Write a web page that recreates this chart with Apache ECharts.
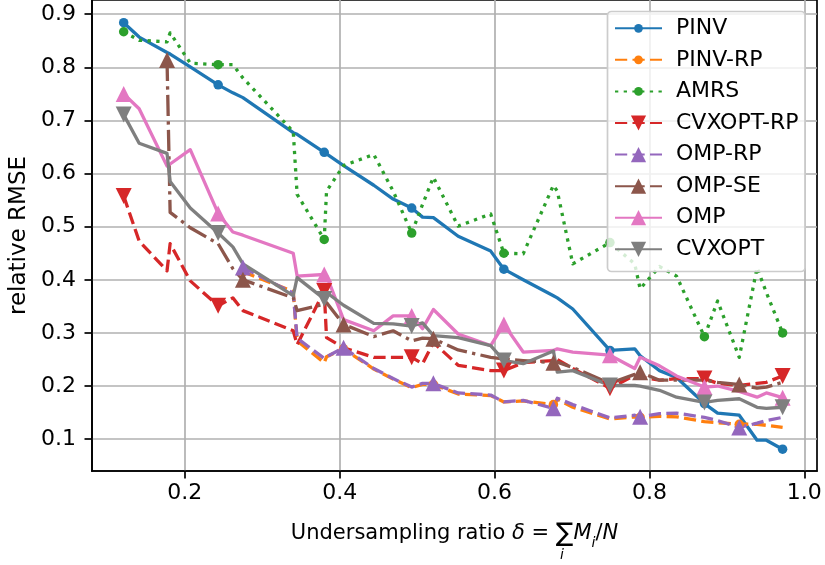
<!DOCTYPE html>
<html><head><meta charset="utf-8">
<script src="https://cdn.jsdelivr.net/npm/echarts@6/dist/echarts.min.js"></script>
<style>html,body{margin:0;padding:0;background:#fff}#c{width:825px;height:565px}</style>
</head><body><div id="c"></div>
<script>
// undersampling ratio (shared x positions)
const xs = [0.121, 0.141, 0.177, 0.181, 0.207, 0.243, 0.262, 0.275, 0.340, 0.345, 0.380, 0.383, 0.405, 0.444, 0.469, 0.493, 0.507, 0.521, 0.553, 0.595, 0.612, 0.637, 0.676, 0.681, 0.701, 0.749, 0.781, 0.788, 0.813, 0.835, 0.871, 0.888, 0.916, 0.939, 0.951, 0.972];
const pinv = [0.884, 0.857, 0.828, 0.825, 0.801, 0.767, 0.752, 0.743, 0.677, 0.674, 0.640, 0.637, 0.615, 0.578, 0.552, 0.535, 0.518, 0.517, 0.482, 0.454, 0.420, 0.400, 0.370, 0.366, 0.345, 0.267, 0.270, 0.257, 0.229, 0.216, 0.167, 0.149, 0.145, 0.098, 0.098, 0.081];
const pinvRp = [null, null, null, null, null, null, null, 0.415, 0.378, 0.285, 0.244, 0.255, 0.270, 0.232, 0.213, 0.197, 0.203, 0.203, 0.185, 0.182, 0.170, 0.172, 0.165, 0.175, 0.160, 0.138, 0.142, 0.141, 0.143, 0.142, 0.133, 0.131, 0.128, 0.128, 0.126, 0.122];
const amrs = [0.867, 0.851, 0.848, 0.865, 0.808, 0.805, 0.805, 0.780, 0.679, 0.561, 0.476, 0.567, 0.615, 0.636, 0.567, 0.488, 0.542, 0.593, 0.501, 0.524, 0.450, 0.449, 0.578, 0.567, 0.430, 0.470, 0.430, 0.383, 0.425, 0.407, 0.293, 0.360, 0.254, 0.423, 0.376, 0.300];
const cvxoptRp = [0.558, 0.473, 0.417, 0.468, 0.398, 0.351, 0.366, 0.342, 0.304, 0.278, 0.379, 0.291, 0.272, 0.254, 0.254, 0.254, 0.242, 0.282, 0.239, 0.229, 0.229, 0.244, 0.248, 0.250, 0.233, 0.196, 0.220, 0.217, 0.211, 0.214, 0.214, 0.205, 0.201, 0.205, 0.207, 0.219];
const ompRp = [null, null, null, null, null, null, null, 0.423, 0.375, 0.290, 0.252, 0.255, 0.272, 0.233, 0.214, 0.198, 0.205, 0.205, 0.187, 0.183, 0.170, 0.173, 0.158, 0.177, 0.165, 0.140, 0.145, 0.142, 0.148, 0.149, 0.141, 0.135, 0.122, 0.130, 0.135, 0.141];
const ompSe = [null, null, 0.814, 0.527, 0.498, 0.468, 0.421, 0.400, 0.366, 0.342, 0.354, 0.357, 0.316, 0.293, 0.304, 0.285, 0.290, 0.289, 0.268, 0.254, 0.251, 0.248, 0.244, 0.245, 0.235, 0.205, 0.222, 0.226, 0.211, 0.211, 0.211, 0.207, 0.203, 0.196, 0.198, 0.207];
const omp = [0.750, 0.722, 0.614, 0.618, 0.645, 0.525, 0.490, 0.484, 0.450, 0.407, 0.410, 0.408, 0.325, 0.304, 0.332, 0.332, 0.308, 0.344, 0.298, 0.276, 0.316, 0.264, 0.267, 0.270, 0.264, 0.258, 0.233, 0.254, 0.238, 0.219, 0.198, 0.200, 0.190, 0.179, 0.187, 0.178];
const cvxopt = [0.711, 0.657, 0.638, 0.585, 0.535, 0.488, 0.462, 0.430, 0.370, 0.404, 0.364, 0.376, 0.352, 0.318, 0.317, 0.313, 0.319, 0.295, 0.291, 0.276, 0.248, 0.242, 0.266, 0.226, 0.229, 0.201, 0.201, 0.200, 0.192, 0.179, 0.169, 0.173, 0.176, 0.160, 0.158, 0.160];
const xTicks = [0.2, 0.4, 0.6, 0.8, 1.0];
const yTicks = [0.1, 0.2, 0.3, 0.4, 0.5, 0.6, 0.7, 0.8, 0.9];
const legendNames = ['PINV', 'PINV-RP', 'AMRS', 'CVXOPT-RP', 'OMP-RP', 'OMP-SE', 'OMP', 'CVXOPT'];

const FONT = 'DejaVu Sans';
const LW = 3.3;
const DASH = [12.2, 5.3], DOT = [3.3, 5.4], DASHDOT = [21.1, 5.3, 3.3, 5.3];

function mk(name, ys, color, type, symbol, size, rotate) {
  const data = xs.map((x, i) => [x, ys[i]]).filter(d => d[1] != null);
  return {
    name, type: 'line', data, silent: true,
    symbol, symbolRotate: rotate || 0,
    symbolSize: (v, p) => (p.dataIndex % 5 === 0 ? size : 0),
    showSymbol: true,
    itemStyle: { color, borderWidth: 0 },
    lineStyle: { color, width: LW, type, cap: 'butt', join: 'round' },
    emphasis: { disabled: true },
    clip: false
  };
}

// one legend per row so each row sits exactly; circle rows get a smaller icon
const ROW0 = 28.3, PITCH = 31.57, TEXT_H = 22;
const legends = legendNames.map((name, k) => {
  const ih = k < 3 ? 11 : 19;
  return {
    orient: 'vertical', left: 607, top: ROW0 + k * PITCH - TEXT_H / 2,
    itemWidth: 47, itemHeight: ih, z: 20, padding: [0, 4, 0, 7],
    data: [name], selectedMode: false,
    textStyle: { fontFamily: FONT, fontSize: 22, color: '#000', lineHeight: TEXT_H, padding: [0, 0, 0, 9] }
  };
});

const chart = echarts.init(document.getElementById('c'), null, { renderer: 'canvas' });
chart.setOption({
  animation: false,
  backgroundColor: '#fff',
  grid: { left: 91, right: 8, top: -2, bottom: 94, show: true, borderColor: '#000', borderWidth: 1.7, backgroundColor: 'transparent' },
  xAxis: {
    type: 'value', min: 0.0801, max: 1.0164, splitNumber: 5, minInterval: 0.2, maxInterval: 0.2,
    axisLine: { show: true, lineStyle: { color: '#000', width: 1.7 } },
    axisTick: { show: true, length: 7.5, lineStyle: { color: '#000', width: 1.7 }, customValues: xTicks },
    axisLabel: { customValues: xTicks, margin: 11, color: '#000', fontFamily: FONT, fontSize: 22, formatter: v => v.toFixed(1) },
    splitLine: { show: true, lineStyle: { color: '#b0b0b0', width: 1.7 } },
    name: '{n|Undersampling ratio }{it|δ}{n| = }{sig|∑}{it|M}{sub|i}{n|/}{it|N}',
    nameLocation: 'middle', nameGap: 47, nameMoveOverlap: false,
    nameTextStyle: {
      color: '#000',
      rich: {
        n: { fontFamily: FONT, fontSize: 21, lineHeight: 32, color: '#000' },
        it: { fontFamily: FONT, fontStyle: 'italic', fontSize: 21, lineHeight: 32, color: '#000' },
        sig: { fontFamily: FONT, fontSize: 26, lineHeight: 32, color: '#000' },
        sub: { fontFamily: FONT, fontStyle: 'italic', fontSize: 14, lineHeight: 14, verticalAlign: 'bottom', color: '#000' }
      }
    }
  },
  yAxis: {
    type: 'value', min: 0.04, max: 0.9268, splitNumber: 9, minInterval: 0.1, maxInterval: 0.1,
    axisLine: { show: true, lineStyle: { color: '#000', width: 1.7 } },
    axisTick: { show: true, length: 7.5, lineStyle: { color: '#000', width: 1.7 }, customValues: yTicks },
    axisLabel: { customValues: yTicks, margin: 16, color: '#000', fontFamily: FONT, fontSize: 22, formatter: v => v.toFixed(1) },
    splitLine: { show: true, lineStyle: { color: '#b0b0b0', width: 1.7 } },
    name: 'relative RMSE', nameLocation: 'middle', nameGap: 61, nameMoveOverlap: false,
    nameTextStyle: { color: '#000', fontFamily: FONT, fontSize: 23 }
  },
  legend: legends,
  graphic: [
    { type: 'rect', z: 10, silent: true,
      shape: { x: 607.5, y: 11.5, width: 197.5, height: 260, r: 4 },
      style: { fill: 'rgba(255,255,255,0.8)', stroke: '#cccccc', lineWidth: 1.7 } },
    { type: 'text', left: 560, top: 548, z: 10, silent: true,
      style: { text: 'i', fontFamily: FONT, fontStyle: 'italic', fontSize: 14, fill: '#000' } }
  ],
  series: [
    mk('PINV', pinv, '#1f77b4', 'solid', 'circle', 9.5),
    mk('PINV-RP', pinvRp, '#ff7f0e', DASH, 'circle', 9.5),
    mk('AMRS', amrs, '#2ca02c', DOT, 'circle', 9.5),
    mk('CVXOPT-RP', cvxoptRp, '#d62728', DASH, 'triangle', 16, 180),
    mk('OMP-RP', ompRp, '#9467bd', DASH, 'triangle', 16),
    mk('OMP-SE', ompSe, '#8c564b', DASHDOT, 'triangle', 16),
    mk('OMP', omp, '#e377c2', 'solid', 'triangle', 16),
    mk('CVXOPT', cvxopt, '#7f7f7f', 'solid', 'triangle', 16, 180)
  ]
});
</script>
</body></html>
